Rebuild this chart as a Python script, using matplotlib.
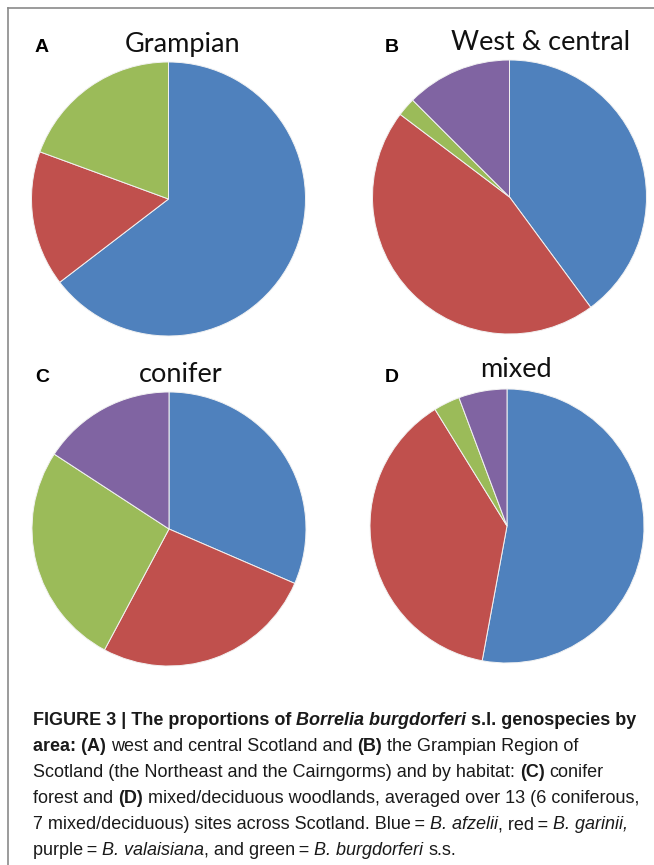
import matplotlib
matplotlib.use("Agg")
import matplotlib.pyplot as plt
from matplotlib.lines import Line2D

# ---------------- data ----------------
species = ["B. afzelii", "B. garinii", "B. burgdorferi s.s.", "B. valaisiana"]
colors = ["#4F81BD", "#C0504D", "#9BBB59", "#8064A2"]

panel_letters = ["A", "B", "C", "D"]
panel_titles = ["Grampian", "West & central", "conifer", "mixed"]
grampian = [64.6, 16.0, 19.4, 0.0]
west_central = [39.9, 45.4, 2.2, 12.5]
conifer = [31.5, 26.3, 26.4, 15.8]
mixed = [52.9, 38.3, 3.1, 5.7]
panel_values = [grampian, west_central, conifer, mixed]

W, H = 654, 865
fig = plt.figure(figsize=(W / 100, H / 100), dpi=100)
fig.patch.set_facecolor("white")

def fx(x):
    return x / W

def fy(y):
    return 1 - y / H

# pie geometry (pixels): centre and radius
centres = [(168.5, 199.0, 137), (509.5, 197.0, 137), (169.0, 529.0, 137), (507.0, 526.0, 137)]
title_pos = [(183, 52), (541, 50), (181, 382), (516, 377)]
letter_pos = [(35, 52), (385, 52), (35, 382), (385, 382)]

for vals, (cx, cy, r), title, tp, letter, lp in zip(panel_values, centres, panel_titles,
                                                   title_pos, panel_letters, letter_pos):
    ax = fig.add_axes([fx(cx - r), fy(cy + r), 2 * r / W, 2 * r / H])
    ax.pie(vals, colors=colors, startangle=90, counterclock=False, radius=1,
           wedgeprops=dict(edgecolor="#f2f2f2", linewidth=0.7))
    ax.set_xlim(-1, 1)
    ax.set_ylim(-1, 1)
    ax.set_aspect("equal")
    ax.axis("off")
    fig.text(fx(tp[0]), fy(tp[1]), title, ha="center", va="baseline",
             fontsize=19.5, family=["Lato", "DejaVu Sans"], color="#111111")
    fig.text(fx(lp[0]), fy(lp[1]), letter, ha="left", va="baseline",
             fontsize=14, fontweight="bold", family=["Liberation Sans", "DejaVu Sans"],
             color="black")

# border lines (top and left)
fig.add_artist(Line2D([fx(8), fx(654)], [fy(8), fy(8)], color="#8a8a8a", lw=1.2))
fig.add_artist(Line2D([fx(8), fx(8)], [fy(8), fy(865)], color="#8a8a8a", lw=1.2))

# ---------------- caption ----------------
cap_lines = [
    [("FIGURE 3 | The proportions of", "bold", "normal"),
     ("Borrelia burgdorferi", "bold", "italic"),
     ("s.l. genospecies by", "bold", "normal")],
    [("area: (A)", "bold", "normal"),
     ("west and central Scotland and", "normal", "normal"),
     ("(B)", "bold", "normal"),
     ("the Grampian Region of", "normal", "normal")],
    [("Scotland (the Northeast and the Cairngorms) and by habitat:", "normal", "normal"),
     ("(C)", "bold", "normal"),
     ("conifer", "normal", "normal")],
    [("forest and", "normal", "normal"),
     ("(D)", "bold", "normal"),
     ("mixed/deciduous woodlands, averaged over 13 (6 coniferous,", "normal", "normal")],
    [("7 mixed/deciduous) sites across Scotland. Blue\u2009=", "normal", "normal"),
     ("B. afzelii", "normal", "italic"),
     ("\b, red\u2009=", "normal", "normal"),
     ("B. garinii,", "normal", "italic")],
    [("purple\u2009=", "normal", "normal"),
     ("B. valaisiana", "normal", "italic"),
     ("\b, and green\u2009=", "normal", "normal"),
     ("B. burgdorferi", "normal", "italic"),
     ("s.s.", "normal", "normal")],
]

cap_family = ["Liberation Sans", "DejaVu Sans"]
cap_size = 13.0
renderer = fig.canvas.get_renderer()

def text_width(s, weight, style):
    t = fig.text(0, 0, s, fontsize=cap_size, fontweight=weight, fontstyle=style, family=cap_family)
    w = t.get_window_extent(renderer).width
    t.remove()
    return w

x0 = 33
base_y = 725
spacing = 26
for i, segs in enumerate(cap_lines):
    x = x0
    y = base_y + i * spacing
    for j, (s, weight, style) in enumerate(segs):
        no_space = s.startswith("\b")
        s = s.lstrip("\b")
        if j > 0 and not no_space:
            sp = text_width("a a", weight, style) - text_width("aa", weight, style)
            x += sp
        t = fig.text(fx(x), fy(y), s, ha="left", va="baseline", fontsize=cap_size,
                     fontweight=weight, fontstyle=style, family=cap_family, color="#1a1a1a")
        x += t.get_window_extent(renderer).width

fig.savefig("out.png", dpi=100, facecolor="white")
